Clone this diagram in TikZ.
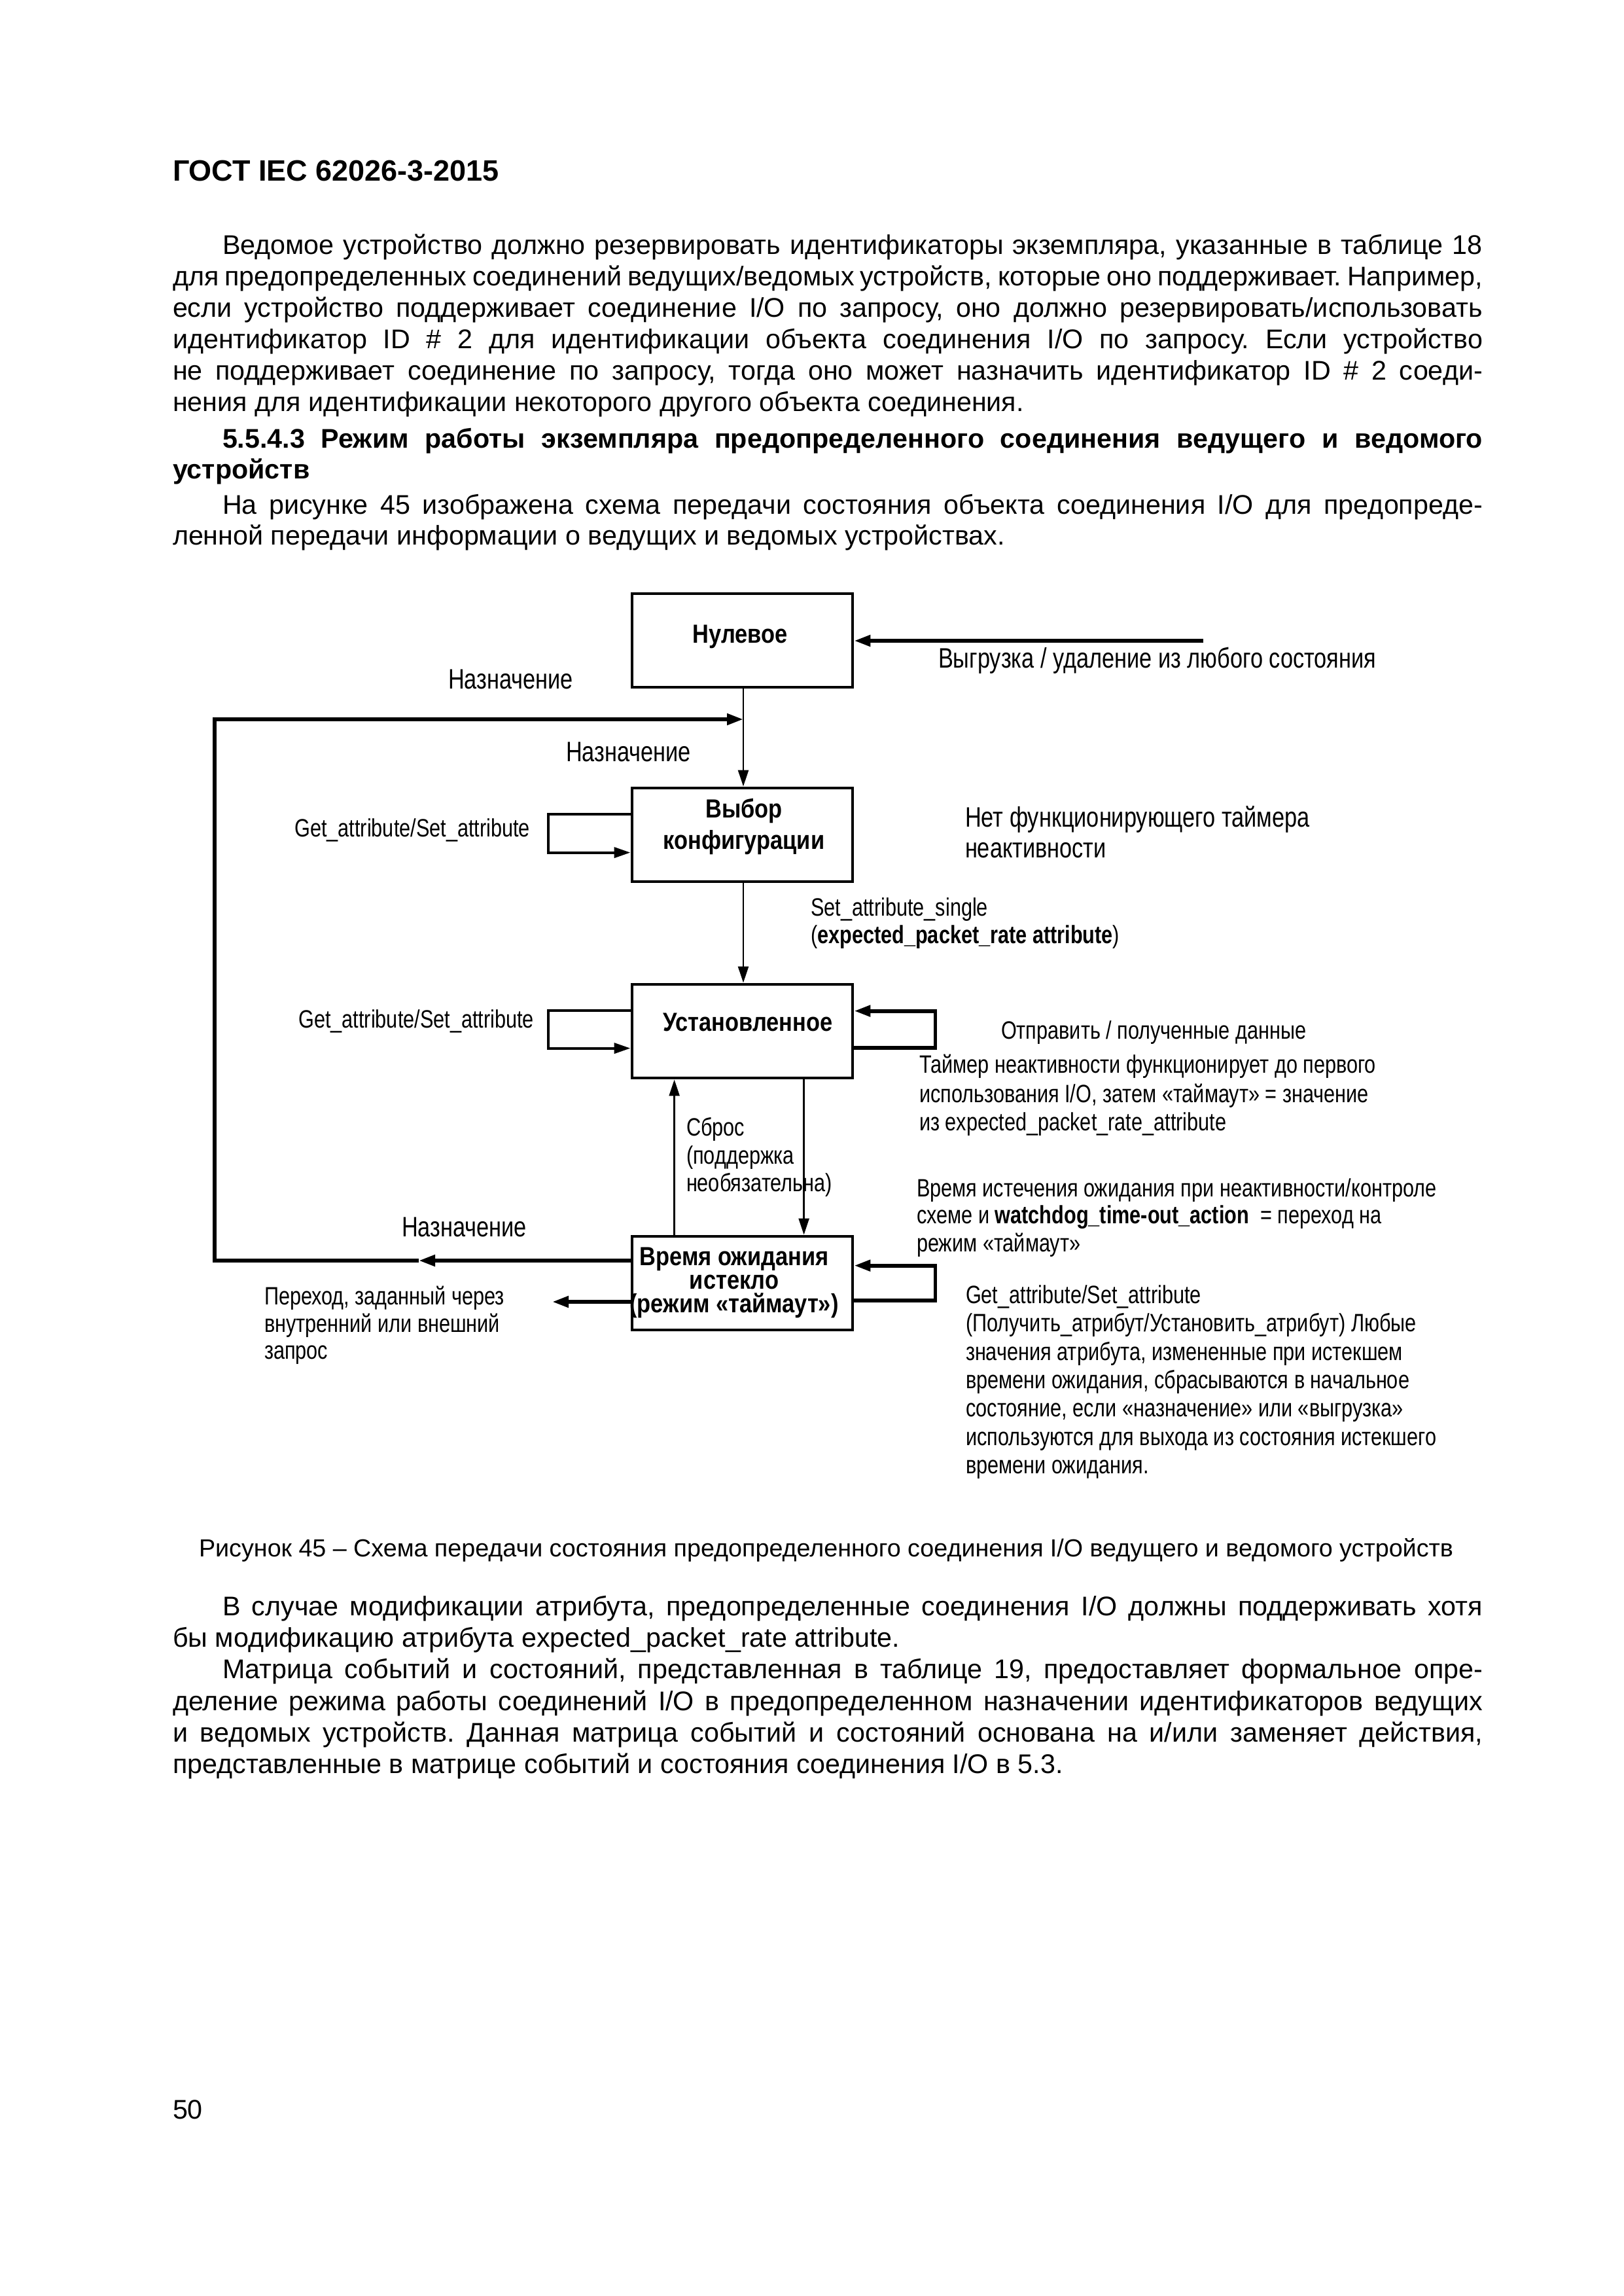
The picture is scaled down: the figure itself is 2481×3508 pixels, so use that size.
\documentclass[tikz,border=0pt]{standalone}
\usepackage{fontspec}
\setmainfont{Liberation Sans}
\newfontfamily\nar[FakeStretch=0.80]{Liberation Sans}
\newfontfamily\narb[FakeStretch=0.86]{Liberation Sans Bold}
\usetikzlibrary{arrows.meta,calc}
\newlength\pxu \setlength\pxu{0.24pt}
\newcommand\jl[5]{\node[tl] (#1) at (#2,#3) {\makebox[#4\pxu][s]{#5}};}
\newcommand\nl[4]{\node[tl] (#1) at (#2,#3) {#4};}
\tikzset{
  tl/.style={anchor=base west, inner sep=0pt, outer sep=0pt, font=\frenchspacing\fontsize{9.9pt}{12pt}\selectfont},
  lab/.style={anchor=base west, inner sep=0pt, outer sep=0pt, font=\frenchspacing\nar\fontsize{9.2pt}{10.4pt}\selectfont},
  biglab/.style={lab, font=\frenchspacing\nar\fontsize{10.3pt}{11pt}\selectfont},
  btxt/.style={anchor=base, inner sep=0pt, outer sep=0pt, font=\narb\fontsize{9.6pt}{10pt}\selectfont},
  statebox/.style={draw, line width=1.15pt, minimum width=337\pxu, minimum height=143\pxu, inner sep=0pt},
  thinarr/.style={line width=0.7pt, -{Triangle[length=6pt,width=3.8pt]}},
  midarr/.style={line width=1.0pt, -{Triangle[length=6pt,width=3.8pt]}},
  thickarr/.style={line width=1.4pt, -{Triangle[length=6pt,width=4pt]}},
  thickline/.style={line width=1.4pt},
}
\begin{document}
\begin{tikzpicture}[x=0.24pt,y=-0.24pt]
\useasboundingbox (0,0) rectangle (2481,3508);
% header
\node[tl, font=\bfseries\fontsize{10.8pt}{13pt}\selectfont] (hdr) at (264,277) {ГОСТ IEC 62026-3-2015};
% paragraph 1
\jl{p1a}{340}{389}{1926}{Ведомое устройство должно резервировать идентификаторы экземпляра, указанные в таблице 18}
\jl{p1b}{264}{437}{2002}{для предопределенных соединений ведущих/ведомых устройств, которые оно поддерживает. Например,}
\jl{p1c}{264}{485}{2002}{если устройство поддерживает соединение I/O по запросу, оно должно резервировать/использовать}
\jl{p1d}{264}{533}{2002}{идентификатор ID \# 2 для идентификации объекта соединения I/O по запросу. Если устройство}
\jl{p1e}{264}{581}{2002}{не поддерживает соединение по запросу, тогда оно может назначить идентификатор ID \# 2 соеди-}
\nl{p1f}{264}{629}{нения для идентификации некоторого другого объекта соединения.}
% heading
\jl{h1a}{340}{685}{1926}{\bfseries 5.5.4.3 Режим работы экземпляра предопределенного соединения ведущего и ведомого}
\nl{h1b}{264}{732}{\bfseries устройств}
% paragraph 2
\jl{p2a}{340}{786}{1926}{На рисунке 45 изображена схема передачи состояния объекта соединения I/O для предопреде-}
\nl{p2b}{264}{833}{ленной передачи информации о ведущих и ведомых устройствах.}

% ---------------- diagram ----------------
\node[statebox] (N) at (1134.5,978.5) {};
\node[statebox] (V) at (1134.5,1275.5) {};
\node[statebox] (U) at (1134.5,1575.5) {};
\node[statebox] (T) at (1134.5,1960.5) {};

\node[btxt] (tN) at (1131,982) {Нулевое};
\node[btxt] (tV1) at (1137,1249) {Выбор};
\node[btxt] (tV2) at (1137,1297) {конфигурации};
\node[btxt] (tU) at (1143,1575) {Установленное};
\node[btxt] (tT1) at (1122,1933) {Время ожидания};
\node[btxt] (tT2) at (1122,1969) {истекло};
\node[btxt] (tT3) at (1122,2005) {(режим «таймаут»)};

% labels
\node[biglab] (l1) at (685,1052) {Назначение};
\node[biglab] (l2) at (865,1163) {Назначение};
\node[lab, anchor=base east] (l3) at (810,1278) {Get\_attribute/Set\_attribute};
\node[lab] (l4) at (1239,1399) {Set\_attribute\_single};
\node[lab] (l5) at (1239,1441) {(\textbf{expected\_packet\_rate attribute})};
\node[biglab] (l6) at (1434,1021) {Выгрузка / удаление из любого состояния};
\node[biglab] (l7) at (1475,1263) {Нет функционирующего таймера};
\node[biglab] (l8) at (1475,1310) {неактивности};
\node[lab, anchor=base east] (l9) at (816,1570) {Get\_attribute/Set\_attribute};
\node[lab] (l10) at (1530,1587) {Отправить / полученные данные};
\node[lab] (l11) at (1405,1639) {Таймер неактивности функционирует до первого};
\node[lab] (l12) at (1405,1684) {использования I/O, затем «таймаут» = значение};
\node[lab] (l13) at (1405,1727) {из expected\_packet\_rate\_attribute};
\node[lab] (l14) at (1049,1735) {Сброс};
\node[lab] (l15) at (1049,1778) {(поддержка};
\node[lab] (l16) at (1049,1820) {необязательна)};
\node[biglab] (l17) at (614,1889) {Назначение};
\node[lab] (l18) at (404,1993) {Переход, заданный через};
\node[lab] (l19) at (404,2035) {внутренний или внешний};
\node[lab] (l20) at (404,2076) {запрос};
\node[lab] (l21) at (1401,1828) {Время истечения ожидания при неактивности/контроле};
\node[lab] (l22) at (1401,1869) {схеме и \textbf{watchdog\_time-out\_action}\ \ = переход на};
\node[lab] (l23) at (1401,1912) {режим «таймаут»};
\node[lab] (l24) at (1476,1991) {Get\_attribute/Set\_attribute};
\node[lab] (l25) at (1476,2034) {(Получить\_атрибут/Установить\_атрибут) Любые};
\node[lab] (l26) at (1476,2078) {значения атрибута, измененные при истекшем};
\node[lab] (l27) at (1476,2121) {времени ожидания, сбрасываются в начальное};
\node[lab] (l28) at (1476,2164) {состояние, если «назначение» или «выгрузка»};
\node[lab] (l29) at (1476,2208) {используются для выхода из состояния истекшего};
\node[lab] (l30) at (1476,2251) {времени ожидания.};

% coordinates
\coordinate (J) at (1136,1099);
\coordinate (Src) at (1839,979);
\coordinate (Out) at (844,1989);
\coordinate (LB) at (328,1926);
\coordinate (LT) at (328,1099);
\coordinate (Mid) at (640,1926);

% connectors
\draw[thinarr] (N.south -| J) -- (V.north -| J);
\draw[thinarr] (V.south -| J) -- (U.north -| J);
\draw[thickarr] (Src) -- (N.east |- Src);
\draw[thickarr] (T.west |- LB) -- (Mid);
\draw[thickline] (Mid) -- (LB) -- (LT) -- ++(400,0);
\draw[thickarr] (LT) -- (J);
% self loops left
\draw[midarr] ($(V.north west)+(0,42)$) -- ++(-126,0) -- ++(0,59) -- ($(V.north west)+(0,101)$);
\draw[midarr] ($(U.north west)+(0,42)$) -- ++(-126,0) -- ++(0,58) -- ($(U.north west)+(0,100)$);
% self loops right
\draw[thickarr] ($(U.north east)+(0,99)$) -- ++(124,0) -- ++(0,-56) -- ($(U.north east)+(0,43)$);
\draw[thickarr] ($(T.north east)+(0,100)$) -- ++(124,0) -- ++(0,-53) -- ($(T.north east)+(0,47)$);
% between U and T
\draw[thinarr] ($(T.north west)+(67,0)$) -- ($(U.south west)+(67,0)$);
\draw[thinarr] ($(U.south west)+(265,0)$) -- ($(T.north west)+(265,0)$);
% out of T
\draw[thickarr] (T.west |- Out) -- (Out);

% caption
\jl{cap}{304}{2378}{1917}{\fontsize{9.05pt}{11pt}\selectfont Рисунок 45 – Схема передачи состояния предопределенного соединения I/O ведущего и ведомого устройств}

% paragraph 3
\jl{p3a}{340}{2468}{1926}{В случае модификации атрибута, предопределенные соединения I/O должны поддерживать хотя}
\nl{p3b}{264}{2516}{бы модификацию атрибута expected\_packet\_rate attribute.}
% paragraph 4
\jl{p4a}{340}{2564}{1926}{Матрица событий и состояний, представленная в таблице 19, предоставляет формальное опре-}
\jl{p4b}{264}{2613}{2002}{деление режима работы соединений I/O в предопределенном назначении идентификаторов ведущих}
\jl{p4c}{264}{2661}{2002}{и ведомых устройств. Данная матрица событий и состояний основана на и/или заменяет действия,}
\nl{p4d}{264}{2709}{представленные в матрице событий и состояния соединения I/O в 5.3.}

% page number
\nl{pg}{264}{3237}{50}
\end{tikzpicture}
\end{document}
